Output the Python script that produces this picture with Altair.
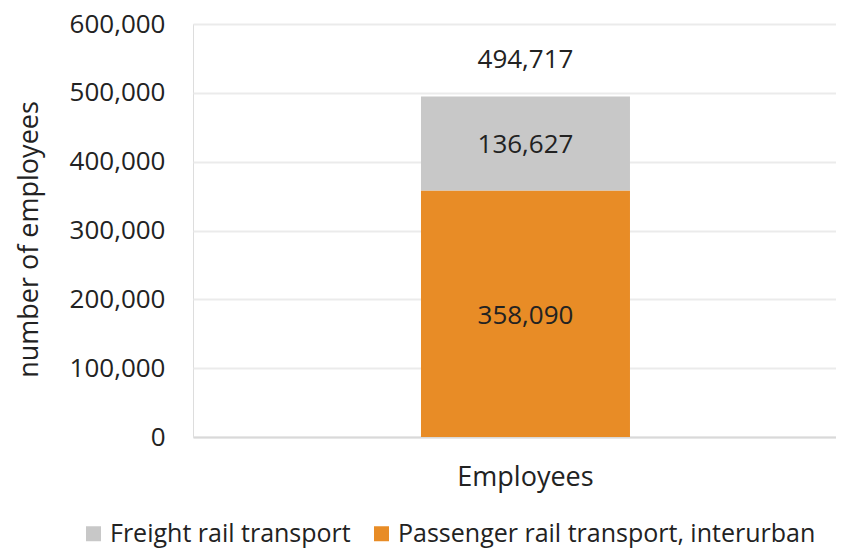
import altair as alt
import pandas as pd

categories = ["Employees", "Employees"]
series = ["Passenger rail transport, interurban", "Freight rail transport"]
values = [358090, 136627]
stack_order = [0, 1]
legend_order = ["Freight rail transport", "Passenger rail transport, interurban"]
colors = ["#C8C8C8", "#E88C26"]
y_ticks = [0, 100000, 200000, 300000, 400000, 500000, 600000]

df = pd.DataFrame({"cat": categories, "series": series, "value": values, "ord": stack_order})

FONT = "Open Sans"
TXT = "#222222"

xscale = alt.Scale(paddingInner=0.0369, paddingOuter=1, align=0.5253)
yscale = alt.Scale(domain=[0, 600000], nice=False)

xaxis = alt.Axis(labelAngle=0, ticks=False, domain=True, domainColor="#D9D9D9",
                 domainWidth=2, labelPadding=27, labelFontSize=27, labelColor=TXT,
                 labelFont=FONT, title=None)
yaxis = alt.Axis(values=y_ticks, format=",.0f", domain=False, ticks=False,
                 gridColor="#EBEBEB", gridWidth=2, labelPadding=28,
                 labelFontSize=26, labelColor=TXT, labelFont=FONT,
                 title="number of employees",
                 titleFontSize=27, titleFont=FONT, titleColor=TXT,
                 titleFontWeight="normal", titleAngle=-90,
                 titleX=-156, titleY=215, titleAlign="center",
                 titleBaseline="alphabetic")

base = alt.Chart(df)

bars = base.mark_bar().encode(
    x=alt.X("cat:N", scale=xscale, axis=xaxis, title=None),
    y=alt.Y("value:Q", stack="zero", scale=yscale, axis=yaxis, title="number of employees"),
    color=alt.Color("series:N", scale=alt.Scale(domain=legend_order, range=colors),
                    legend=alt.Legend(title=None, orient="none", direction="horizontal",
                                      legendX=-112, legendY=497, symbolType="square",
                                      symbolSize=225, symbolStrokeWidth=0,
                                      labelFontSize=25, labelFont=FONT, labelColor=TXT,
                                      labelLimit=0, labelOffset=4, columnPadding=18)),
    order=alt.Order("ord:Q"),
)

seg_labels = base.transform_stack(
    stack="value", groupby=["cat"], as_=["v0", "v1"], sort=[alt.SortField("ord")]
).transform_calculate(
    mid="(datum.v0 + datum.v1) / 2"
).mark_text(fontSize=26, font=FONT, color=TXT, dy=2).encode(
    x=alt.X("cat:N", scale=xscale, axis=xaxis, title=None),
    y=alt.Y("mid:Q", scale=yscale, axis=yaxis, title="number of employees"),
    text=alt.Text("value:Q", format=","),
)

total_label = base.transform_aggregate(
    total="sum(value)", groupby=["cat"]
).mark_text(fontSize=26, font=FONT, color=TXT, dy=-36).encode(
    x=alt.X("cat:N", scale=xscale, axis=xaxis, title=None),
    y=alt.Y("total:Q", scale=yscale, axis=yaxis, title="number of employees"),
    text=alt.Text("total:Q", format=","),
)

chart = alt.layer(bars, seg_labels, total_label).properties(
    width=643, height=413,
    autosize=alt.AutoSizeParams(type="none"),
    padding={"left": 185, "top": 16, "right": 0, "bottom": 111},
).configure_view(stroke=None).configure(background="white")

chart.save("out.html", embed_options={"renderer": "svg", "actions": False})
